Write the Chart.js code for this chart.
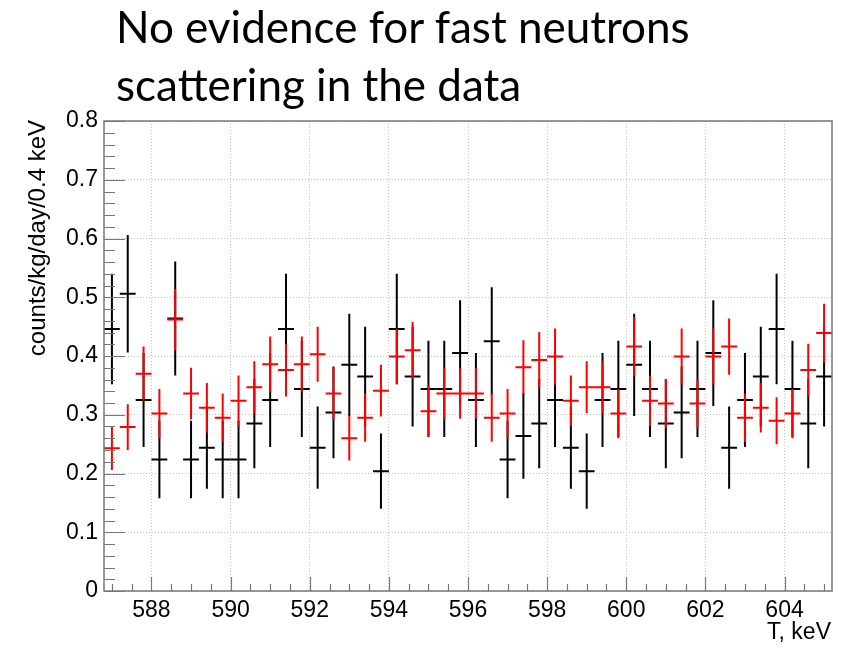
<!DOCTYPE html>
<html>
<head>
<meta charset="utf-8">
<script src="https://cdn.jsdelivr.net/npm/chart.js@4.4.0/dist/chart.umd.min.js"></script>
<style>
  html, body { margin: 0; padding: 0; background: #fff; }
  #wrap { position: relative; width: 856px; height: 647px; }
  #headline {
    position: absolute; left: 116px; top: -3px;
    font-family: Lato, "Open Sans", sans-serif; font-size: 44px;
    line-height: 58px; color: #000; white-space: nowrap;
  }
  canvas { position: absolute; left: 0; top: 0; }
</style>
</head>
<body>
<div id="wrap">
  <canvas id="chart" width="856" height="647"></canvas>
  <div id="headline">No evidence for fast neutrons<br>scattering in the data</div>
</div>
<script>
// bin centres, T in keV (0.4 keV bins)
const binCenters = [
  587.0, 587.4, 587.8, 588.2, 588.6, 589.0, 589.4, 589.8, 590.2, 590.6,
  591.0, 591.4, 591.8, 592.2, 592.6, 593.0, 593.4, 593.8, 594.2, 594.6,
  595.0, 595.4, 595.8, 596.2, 596.6, 597.0, 597.4, 597.8, 598.2, 598.6,
  599.0, 599.4, 599.8, 600.2, 600.6, 601.0, 601.4, 601.8, 602.2, 602.6,
  603.0, 603.4, 603.8, 604.2, 604.6, 605.0
];

// black histogram
const blackValues = [
  0.446, 0.506, 0.325, 0.224, 0.464, 0.224, 0.244, 0.224, 0.224, 0.285,
  0.325, 0.446, 0.344, 0.244, 0.304, 0.385, 0.365, 0.204, 0.446, 0.365,
  0.344, 0.344, 0.405, 0.325, 0.425, 0.224, 0.264, 0.285, 0.325, 0.244,
  0.204, 0.325, 0.344, 0.385, 0.344, 0.285, 0.304, 0.344, 0.405, 0.244,
  0.325, 0.365, 0.446, 0.344, 0.285, 0.365
];
const blackErrors = [
  0.094, 0.100, 0.080, 0.066, 0.097, 0.066, 0.070, 0.066, 0.066, 0.076,
  0.080, 0.094, 0.082, 0.070, 0.078, 0.087, 0.085, 0.064, 0.094, 0.085,
  0.082, 0.082, 0.090, 0.080, 0.092, 0.066, 0.073, 0.076, 0.080, 0.070,
  0.064, 0.080, 0.082, 0.087, 0.082, 0.076, 0.078, 0.082, 0.090, 0.070,
  0.080, 0.085, 0.094, 0.082, 0.076, 0.085
];

// red histogram
const redValues = [
  0.243, 0.279, 0.370, 0.302, 0.462, 0.336, 0.312, 0.295, 0.324, 0.347,
  0.386, 0.376, 0.386, 0.403, 0.336, 0.260, 0.295, 0.341, 0.399, 0.410,
  0.306, 0.336, 0.336, 0.336, 0.295, 0.302, 0.381, 0.393, 0.399, 0.324,
  0.347, 0.347, 0.302, 0.416, 0.324, 0.319, 0.399, 0.319, 0.399, 0.416,
  0.295, 0.312, 0.290, 0.302, 0.376, 0.439
];
const redErrors = [
  0.037, 0.039, 0.046, 0.042, 0.052, 0.044, 0.042, 0.041, 0.043, 0.044,
  0.047, 0.045, 0.047, 0.047, 0.045, 0.038, 0.041, 0.044, 0.047, 0.048,
  0.043, 0.044, 0.043, 0.043, 0.041, 0.042, 0.046, 0.048, 0.048, 0.043,
  0.044, 0.044, 0.042, 0.050, 0.043, 0.042, 0.048, 0.042, 0.048, 0.048,
  0.041, 0.042, 0.040, 0.042, 0.045, 0.050
];

const xTickValues = [588, 590, 592, 594, 596, 598, 600, 602, 604];
const yTickValues = [0, 0.1, 0.2, 0.3, 0.4, 0.5, 0.6, 0.7, 0.8];
const binWidth = 0.4;
const xRange = [586.8, 605.2];
const yRange = [0, 0.8];

const fontFamily = '"Liberation Sans", Arial, sans-serif';

function toPoints(values) {
  return binCenters.map((x, i) => ({ x: x, y: values[i] }));
}

// draws each bin as a cross: horizontal bar over the bin, vertical error bar
const histCrosses = {
  id: "histCrosses",
  afterDatasetsDraw(chart) {
    const ctx = chart.ctx;
    const xs = chart.scales.x;
    const ys = chart.scales.y;
    ctx.save();
    ctx.beginPath();
    ctx.rect(chart.chartArea.left, chart.chartArea.top,
      chart.chartArea.right - chart.chartArea.left,
      chart.chartArea.bottom - chart.chartArea.top);
    ctx.clip();
    chart.data.datasets.forEach((ds) => {
      ctx.strokeStyle = ds.borderColor;
      ctx.lineWidth = 2;
      ds.data.forEach((p, i) => {
        const err = ds.errors[i];
        const x0 = xs.getPixelForValue(p.x - binWidth / 2);
        const x1 = xs.getPixelForValue(p.x + binWidth / 2);
        const xc = xs.getPixelForValue(p.x);
        const yc = ys.getPixelForValue(p.y);
        const yt = ys.getPixelForValue(p.y + err);
        const yb = ys.getPixelForValue(p.y - err);
        ctx.beginPath();
        ctx.moveTo(x0, yc);
        ctx.lineTo(x1, yc);
        ctx.moveTo(xc, yt);
        ctx.lineTo(xc, yb);
        ctx.stroke();
      });
    });
    ctx.restore();
  },
};

// ROOT-like frame, inner tick marks and axis titles
const rootFrame = {
  id: "rootFrame",
  afterDraw(chart) {
    const ctx = chart.ctx;
    const a = chart.chartArea;
    const xs = chart.scales.x;
    const ys = chart.scales.y;
    ctx.save();
    ctx.strokeStyle = "#777";
    ctx.lineWidth = 1.5;
    ctx.strokeRect(a.left, a.top, a.right - a.left, a.bottom - a.top);

    ctx.lineWidth = 1.2;
    ctx.beginPath();
    for (let k = 0; k <= 40; k++) {
      const v = k * 0.02;
      const y = Math.round(ys.getPixelForValue(v)) + 0.5;
      const len = k % 5 === 0 ? 21 : 11;
      ctx.moveTo(a.left, y);
      ctx.lineTo(a.left + len, y);
    }
    for (let k = 0; k <= 36; k++) {
      const v = 587 + k * 0.5;
      if (v > xRange[1]) break;
      const x = Math.round(xs.getPixelForValue(v)) + 0.5;
      const len = (v % 2 === 0) ? 14 : 7;
      ctx.moveTo(x, a.bottom);
      ctx.lineTo(x, a.bottom - len);
    }
    ctx.stroke();

    ctx.fillStyle = "#000";
    ctx.font = "23px " + fontFamily;
    ctx.textAlign = "right";
    ctx.textBaseline = "alphabetic";
    ctx.fillText("T, keV", a.right - 1, 639);

    ctx.font = "24px " + fontFamily;
    ctx.translate(45, a.top - 1);
    ctx.rotate(-Math.PI / 2);
    ctx.textAlign = "right";
    ctx.fillText("counts/kg/day/0.4 keV", 0, 0);
    ctx.restore();
  },
};

new Chart(document.getElementById("chart"), {
  type: "scatter",
  data: {
    datasets: [
      { label: "black", data: toPoints(blackValues), errors: blackErrors,
        borderColor: "#000000", backgroundColor: "#000000", pointRadius: 0 },
      { label: "red", data: toPoints(redValues), errors: redErrors,
        borderColor: "#ff0000", backgroundColor: "#ff0000", pointRadius: 0 },
    ],
  },
  options: {
    responsive: false,
    animation: false,
    devicePixelRatio: 1,
    layout: { padding: { left: 0, right: 24, top: 121, bottom: 0 } },
    plugins: { legend: { display: false }, tooltip: { enabled: false } },
    scales: {
      x: {
        type: "linear",
        min: xRange[0],
        max: xRange[1],
        afterBuildTicks: (s) => { s.ticks = xTickValues.map((v) => ({ value: v })); },
        afterFit: (s) => { s.height = 56; },
        ticks: { font: { family: fontFamily, size: 23 }, color: "#000", padding: 6, maxRotation: 0 },
        grid: { color: "#c4c4c4", drawTicks: false, lineWidth: 1 },
        border: { display: false, dash: [1, 2] },
      },
      y: {
        min: yRange[0],
        max: yRange[1],
        afterBuildTicks: (s) => { s.ticks = yTickValues.map((v) => ({ value: v })); },
        afterFit: (s) => { s.width = 104; },
        ticks: {
          font: { family: fontFamily, size: 23 }, color: "#000", padding: 6,
          callback: (v) => (v === 0 ? "0" : v.toFixed(1)),
        },
        grid: { color: "#c4c4c4", drawTicks: false, lineWidth: 1 },
        border: { display: false, dash: [1, 2] },
      },
    },
  },
  plugins: [histCrosses, rootFrame],
});
</script>
</body>
</html>
